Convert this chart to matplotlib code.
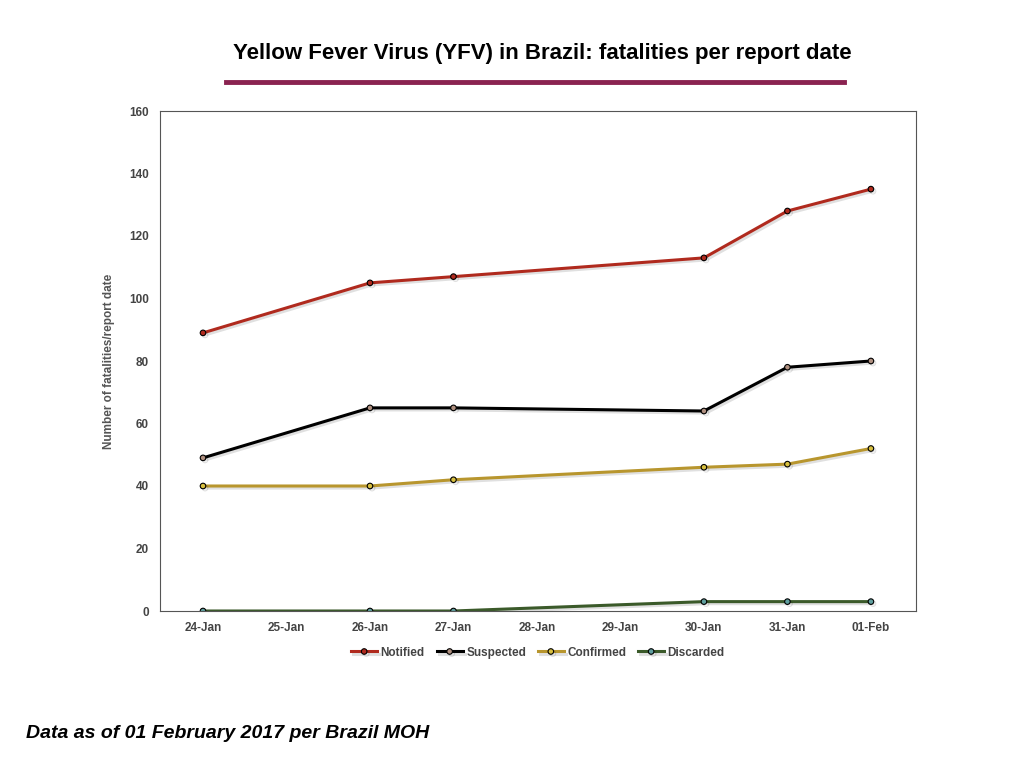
import matplotlib
matplotlib.use("Agg")
import matplotlib.pyplot as plt
import matplotlib.patheffects as pe

plt.rcParams["font.family"] = ["Liberation Sans", "DejaVu Sans"]

days = ["24-Jan", "25-Jan", "26-Jan", "27-Jan", "28-Jan", "29-Jan", "30-Jan", "31-Jan", "01-Feb"]
report_idx = [0, 2, 3, 6, 7, 8]
notified = [89, 105, 107, 113, 128, 135]
suspected = [49, 65, 65, 64, 78, 80]
confirmed = [40, 40, 42, 46, 47, 52]
discarded = [0, 0, 0, 3, 3, 3]

series = [
    ("Notified", notified, "#b02a1e", "#b02a1e"),
    ("Suspected", suspected, "#000000", "#b09080"),
    ("Confirmed", confirmed, "#b8962e", "#d8c040"),
    ("Discarded", discarded, "#3b5a2a", "#60a0a0"),
]

fig = plt.figure(figsize=(10.24, 7.68), dpi=100)
ax = fig.add_axes([160 / 1024, 1 - 611 / 768, 756 / 1024, 500 / 768])

shadow = [pe.SimpleLineShadow(offset=(1.5, -1.5), alpha=0.12), pe.Normal()]
for name, vals, col, fill in series:
    ax.plot(report_idx, vals, color=col, lw=2.2, marker="o", ms=4,
            mfc=fill, mec="black", mew=0.8, label=name, path_effects=shadow)

ax.set_xlim(-0.515, 8.54)
ax.set_ylim(0, 160)
ax.set_yticks(range(0, 161, 20))
ax.set_xticks(range(len(days)))
ax.set_xticklabels(days)
ax.tick_params(labelsize=8.5, colors="#444444", length=0, pad=8)
for lab in ax.get_xticklabels() + ax.get_yticklabels():
    lab.set_fontweight("bold")
for s in ax.spines.values():
    s.set_color("#555555")
    s.set_linewidth(0.8)
ax.set_ylabel("Number of fatalities/report date", fontsize=8.5, fontweight="bold",
              color="#555555", labelpad=10)

leg = ax.legend(loc="upper center", bbox_to_anchor=(0.5, -0.05), ncol=4, frameon=False,
                fontsize=8.5, handlelength=2.2, columnspacing=1.0, handletextpad=0.3)
for t in leg.get_texts():
    t.set_fontweight("bold")
    t.set_color("#444444")

fig.text(542 / 1024, 1 - 54 / 768, "Yellow Fever Virus (YFV) in Brazil: fatalities per report date",
         ha="center", va="center", fontsize=16, fontweight="bold")
fig.add_artist(plt.Line2D([226 / 1024, 844 / 1024], [1 - 82 / 768] * 2, color="#8a2350", lw=3.5))
fig.text(26 / 1024, 1 - 733 / 768, "Data as of 01 February 2017 per Brazil MOH",
         ha="left", va="center", fontsize=14, fontweight="bold", style="italic")

fig.savefig("out.png", dpi=100)
